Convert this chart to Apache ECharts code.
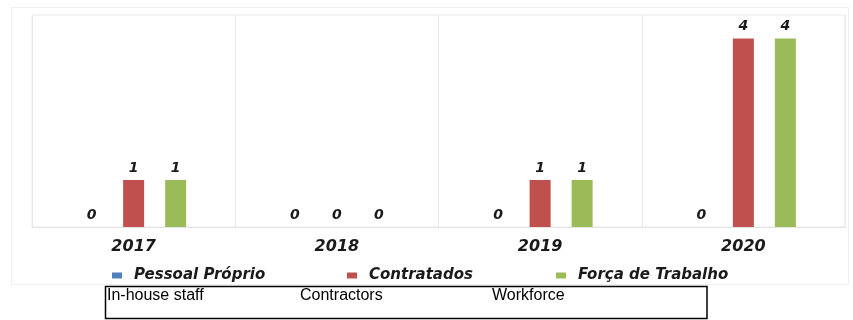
<!DOCTYPE html>
<html>
<head>
<meta charset="utf-8">
<script src="https://cdn.jsdelivr.net/npm/echarts@6/dist/echarts.min.js"></script>
<style>
  html, body { margin: 0; padding: 0; background: #ffffff; }
  #chart { width: 853px; height: 320px; }
</style>
</head>
<body>
<div id="chart"></div>
<script>
// Categories and values
const years = ['2017', '2018', '2019', '2020'];
const seriesNames = ['Pessoal Próprio', 'Contratados', 'Força de Trabalho'];
const pessoalProprio = [0, 0, 0, 0];
const contratados = [1, 0, 1, 4];
const forcaTrabalho = [1, 0, 1, 4];
const captionLabels = ['In-house staff', 'Contractors', 'Workforce'];

const seriesValues = [pessoalProprio, contratados, forcaTrabalho];
const seriesColors = ['#4F81BD', '#C0504D', '#9BBB59'];

const boldItalic = {
  fontFamily: 'DejaVu Sans',
  fontWeight: 'bold',
  fontStyle: 'italic',
  color: '#1a1a1a'
};

// one legend block per series so each entry sits at its own x position
const legendLeft = [107, 342, 551];
const legends = seriesNames.map((name, i) => ({
  data: [name],
  left: legendLeft[i],
  top: 263,
  itemWidth: 10,
  itemHeight: 6,
  icon: 'rect',
  textStyle: Object.assign({}, boldItalic, { fontSize: 15, padding: [0, 0, 0, 7] })
}));

// caption strip below the chart
const captionX = [107, 300, 492];
const captionFont = '16px "Liberation Sans", Arial, sans-serif';
const captionTexts = captionLabels.map((t, i) => ({
  type: 'text',
  silent: true,
  z: 100,
  x: captionX[i],
  y: 288,
  style: { text: t, font: captionFont, fill: '#000000', textVerticalAlign: 'top', verticalAlign: 'top' }
}));

const chart = echarts.init(document.getElementById('chart'), null, { renderer: 'canvas' });

chart.setOption({
  animation: false,
  backgroundColor: '#ffffff',
  legend: legends,
  grid: {
    left: 32,
    right: 8,
    top: 15,
    bottom: 93,
    show: true,
    borderColor: '#e9e9e9',
    borderWidth: 1
  },
  xAxis: {
    type: 'category',
    data: years,
    axisLine: { show: true, lineStyle: { color: '#e4e4e4' } },
    axisTick: { show: false },
    splitLine: { show: true, lineStyle: { color: '#e9e9e9', width: 1 } },
    axisLabel: Object.assign({}, boldItalic, { fontSize: 16, margin: 12 })
  },
  yAxis: {
    type: 'value',
    min: 0,
    max: 4.5,
    show: false,
    splitLine: { show: false }
  },
  series: seriesNames.map((name, i) => ({
    name: name,
    type: 'bar',
    data: seriesValues[i],
    barWidth: 21,
    barGap: '100%',
    itemStyle: { color: seriesColors[i] },
    label: Object.assign({
      show: true,
      position: 'top',
      distance: 5,
      fontSize: 14
    }, boldItalic)
  })),
  graphic: [
    {
      type: 'rect',
      silent: true,
      z: -1,
      shape: { x: 11.5, y: 7.5, width: 837, height: 277 },
      style: { fill: 'none', stroke: '#efefef', lineWidth: 1 }
    },
    {
      type: 'rect',
      silent: true,
      z: 50,
      shape: { x: 105.5, y: 286.5, width: 601.5, height: 32 },
      style: { fill: '#ffffff', stroke: '#000000', lineWidth: 1.5 }
    }
  ].concat(captionTexts)
});
</script>
</body>
</html>
